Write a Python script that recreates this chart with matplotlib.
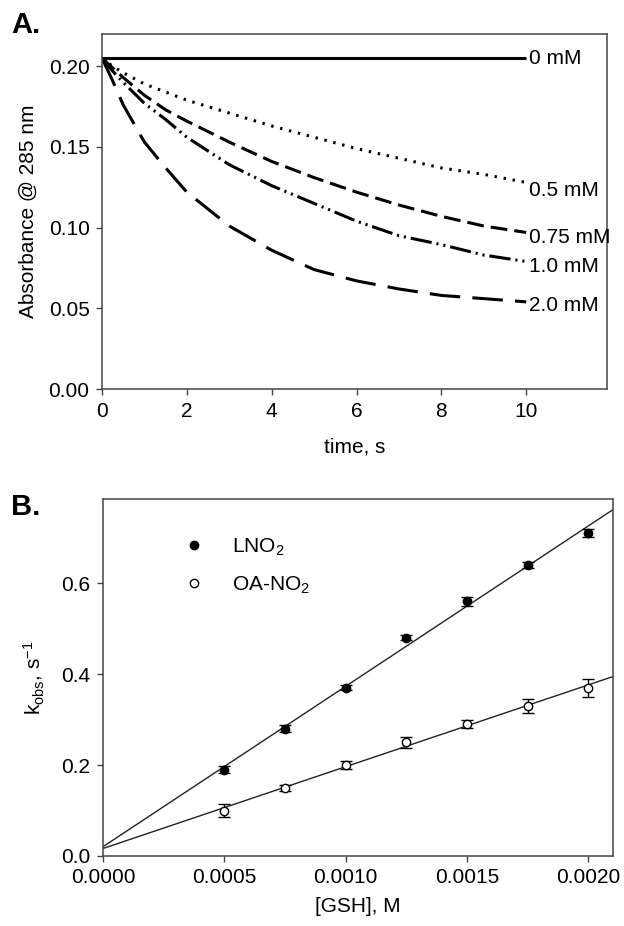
import numpy as np
import matplotlib
matplotlib.use('Agg')
import matplotlib.pyplot as plt
from matplotlib.lines import Line2D
from matplotlib.ticker import FormatStrFormatter

plt.rcParams['font.family'] = ['Liberation Sans', 'DejaVu Sans']
plt.rcParams['mathtext.fontset'] = 'custom'
plt.rcParams['mathtext.rm'] = 'Liberation Sans'
plt.rcParams['mathtext.it'] = 'Liberation Sans'

# panel A: absorbance traces
t_a = [0, 0.25, 0.5, 1, 1.5, 2, 3, 4, 5, 6, 7, 8, 9, 10]
abs_05 = [0.205, 0.200, 0.196, 0.189, 0.184, 0.179, 0.171, 0.163, 0.156, 0.149, 0.143, 0.137, 0.133, 0.128]
abs_075 = [0.205, 0.199, 0.193, 0.182, 0.173, 0.166, 0.153, 0.141, 0.131, 0.122, 0.114, 0.107, 0.101, 0.097]
abs_10 = [0.205, 0.197, 0.190, 0.177, 0.167, 0.156, 0.139, 0.126, 0.115, 0.104, 0.095, 0.0895, 0.083, 0.079]
abs_20 = [0.205, 0.191, 0.176, 0.153, 0.137, 0.122, 0.101, 0.086, 0.074, 0.067, 0.062, 0.058, 0.056, 0.054]
t_0 = [0, 10]
abs_0 = [0.205, 0.205]
conc_labels = ['0 mM', '0.5 mM', '0.75 mM', '1.0 mM', '2.0 mM']
label_y = [0.205, 0.123, 0.094, 0.076, 0.052]

# panel B: k_obs vs [GSH]
gsh = [0.0005, 0.00075, 0.0010, 0.00125, 0.0015, 0.00175, 0.0020]
k_lno2 = [0.19, 0.28, 0.37, 0.48, 0.56, 0.64, 0.71]
err_lno2 = [0.008, 0.008, 0.006, 0.006, 0.010, 0.006, 0.008]
k_oa = [0.10, 0.15, 0.20, 0.25, 0.29, 0.33, 0.37]
err_oa = [0.015, 0.007, 0.008, 0.012, 0.008, 0.015, 0.020]

fig = plt.figure(figsize=(6.24, 9.26), dpi=100)
axA = fig.add_axes([0.1635, 0.5799, 0.809, 0.3834])
axB = fig.add_axes([0.165, 0.0756, 0.817, 0.3855])

lw = 2.2
axA.plot(t_0, abs_0, color='black', lw=lw, solid_capstyle='butt')
axA.plot(t_a, abs_05, color='black', lw=lw, linestyle=(0, (0.8, 2.2)))
axA.plot(t_a, abs_075, color='black', lw=lw, linestyle=(0, (5.5, 2.3)))
axA.plot(t_a, abs_10, color='black', lw=lw, linestyle=(0, (7, 1.6, 0.7, 1.6, 0.7, 1.6)))
axA.plot(t_a, abs_20, color='black', lw=lw, linestyle=(0, (10, 4)))
for lab, yy in zip(conc_labels, label_y):
    axA.text(10.07, yy, lab, fontsize=15, va='center', ha='left')

axA.set_xlim(0, 11.9)
axA.set_ylim(0, 0.22)
axA.set_xticks([0, 2, 4, 6, 8, 10])
axA.set_yticks([0, 0.05, 0.10, 0.15, 0.20])
axA.yaxis.set_major_formatter(FormatStrFormatter('%.2f'))
axA.set_xlabel('time, s', fontsize=15, labelpad=12)
axA.set_ylabel('Absorbance @ 285 nm', fontsize=15, labelpad=8)

# linear fits
xfit = np.array([0, 0.0021])
for k in (k_lno2, k_oa):
    p = np.polyfit(gsh, k, 1)
    axB.plot(xfit, np.polyval(p, xfit), color='#222222', lw=1.0)

axB.errorbar(gsh, k_lno2, yerr=err_lno2, fmt='o', color='black', ms=6,
             capsize=4, elinewidth=1, capthick=1, zorder=3)
axB.errorbar(gsh, k_oa, yerr=err_oa, fmt='o', color='black', mfc='white', ms=6,
             mew=1, capsize=4, elinewidth=1, capthick=1, zorder=3)
handles = [Line2D([], [], marker='o', ls='none', color='black', ms=6),
           Line2D([], [], marker='o', ls='none', color='black', mfc='white', ms=6)]
axB.legend(handles, ['LNO$_2$', 'OA-NO$_2$'], loc='upper left',
           bbox_to_anchor=(0.158, 0.895), frameon=False, fontsize=15,
           handlelength=1.0, handletextpad=1.35, labelspacing=0.8,
           borderpad=0, borderaxespad=0)

axB.set_xlim(0, 0.0021)
axB.set_ylim(0, 0.785)
axB.set_xticks([0, 0.0005, 0.0010, 0.0015, 0.0020])
axB.set_yticks([0, 0.2, 0.4, 0.6])
axB.xaxis.set_major_formatter(FormatStrFormatter('%.4f'))
axB.yaxis.set_major_formatter(FormatStrFormatter('%.1f'))
axB.set_xlabel('[GSH], M', fontsize=15, labelpad=7)
axB.set_ylabel(r'k$_{\mathrm{obs}}$, s$^{-1}$', fontsize=15, labelpad=10)

for ax in (axA, axB):
    for s in ax.spines.values():
        s.set_color('#444444')
        s.set_linewidth(1.1)
    ax.tick_params(direction='out', length=4, width=1, color='#444444',
                   labelsize=15, pad=5)

fig.text(0.018, 0.988, 'A.', fontsize=21, fontweight='bold', va='top')
fig.text(0.018, 0.468, 'B.', fontsize=21, fontweight='bold', va='top')

fig.savefig('out.png', dpi=100)
